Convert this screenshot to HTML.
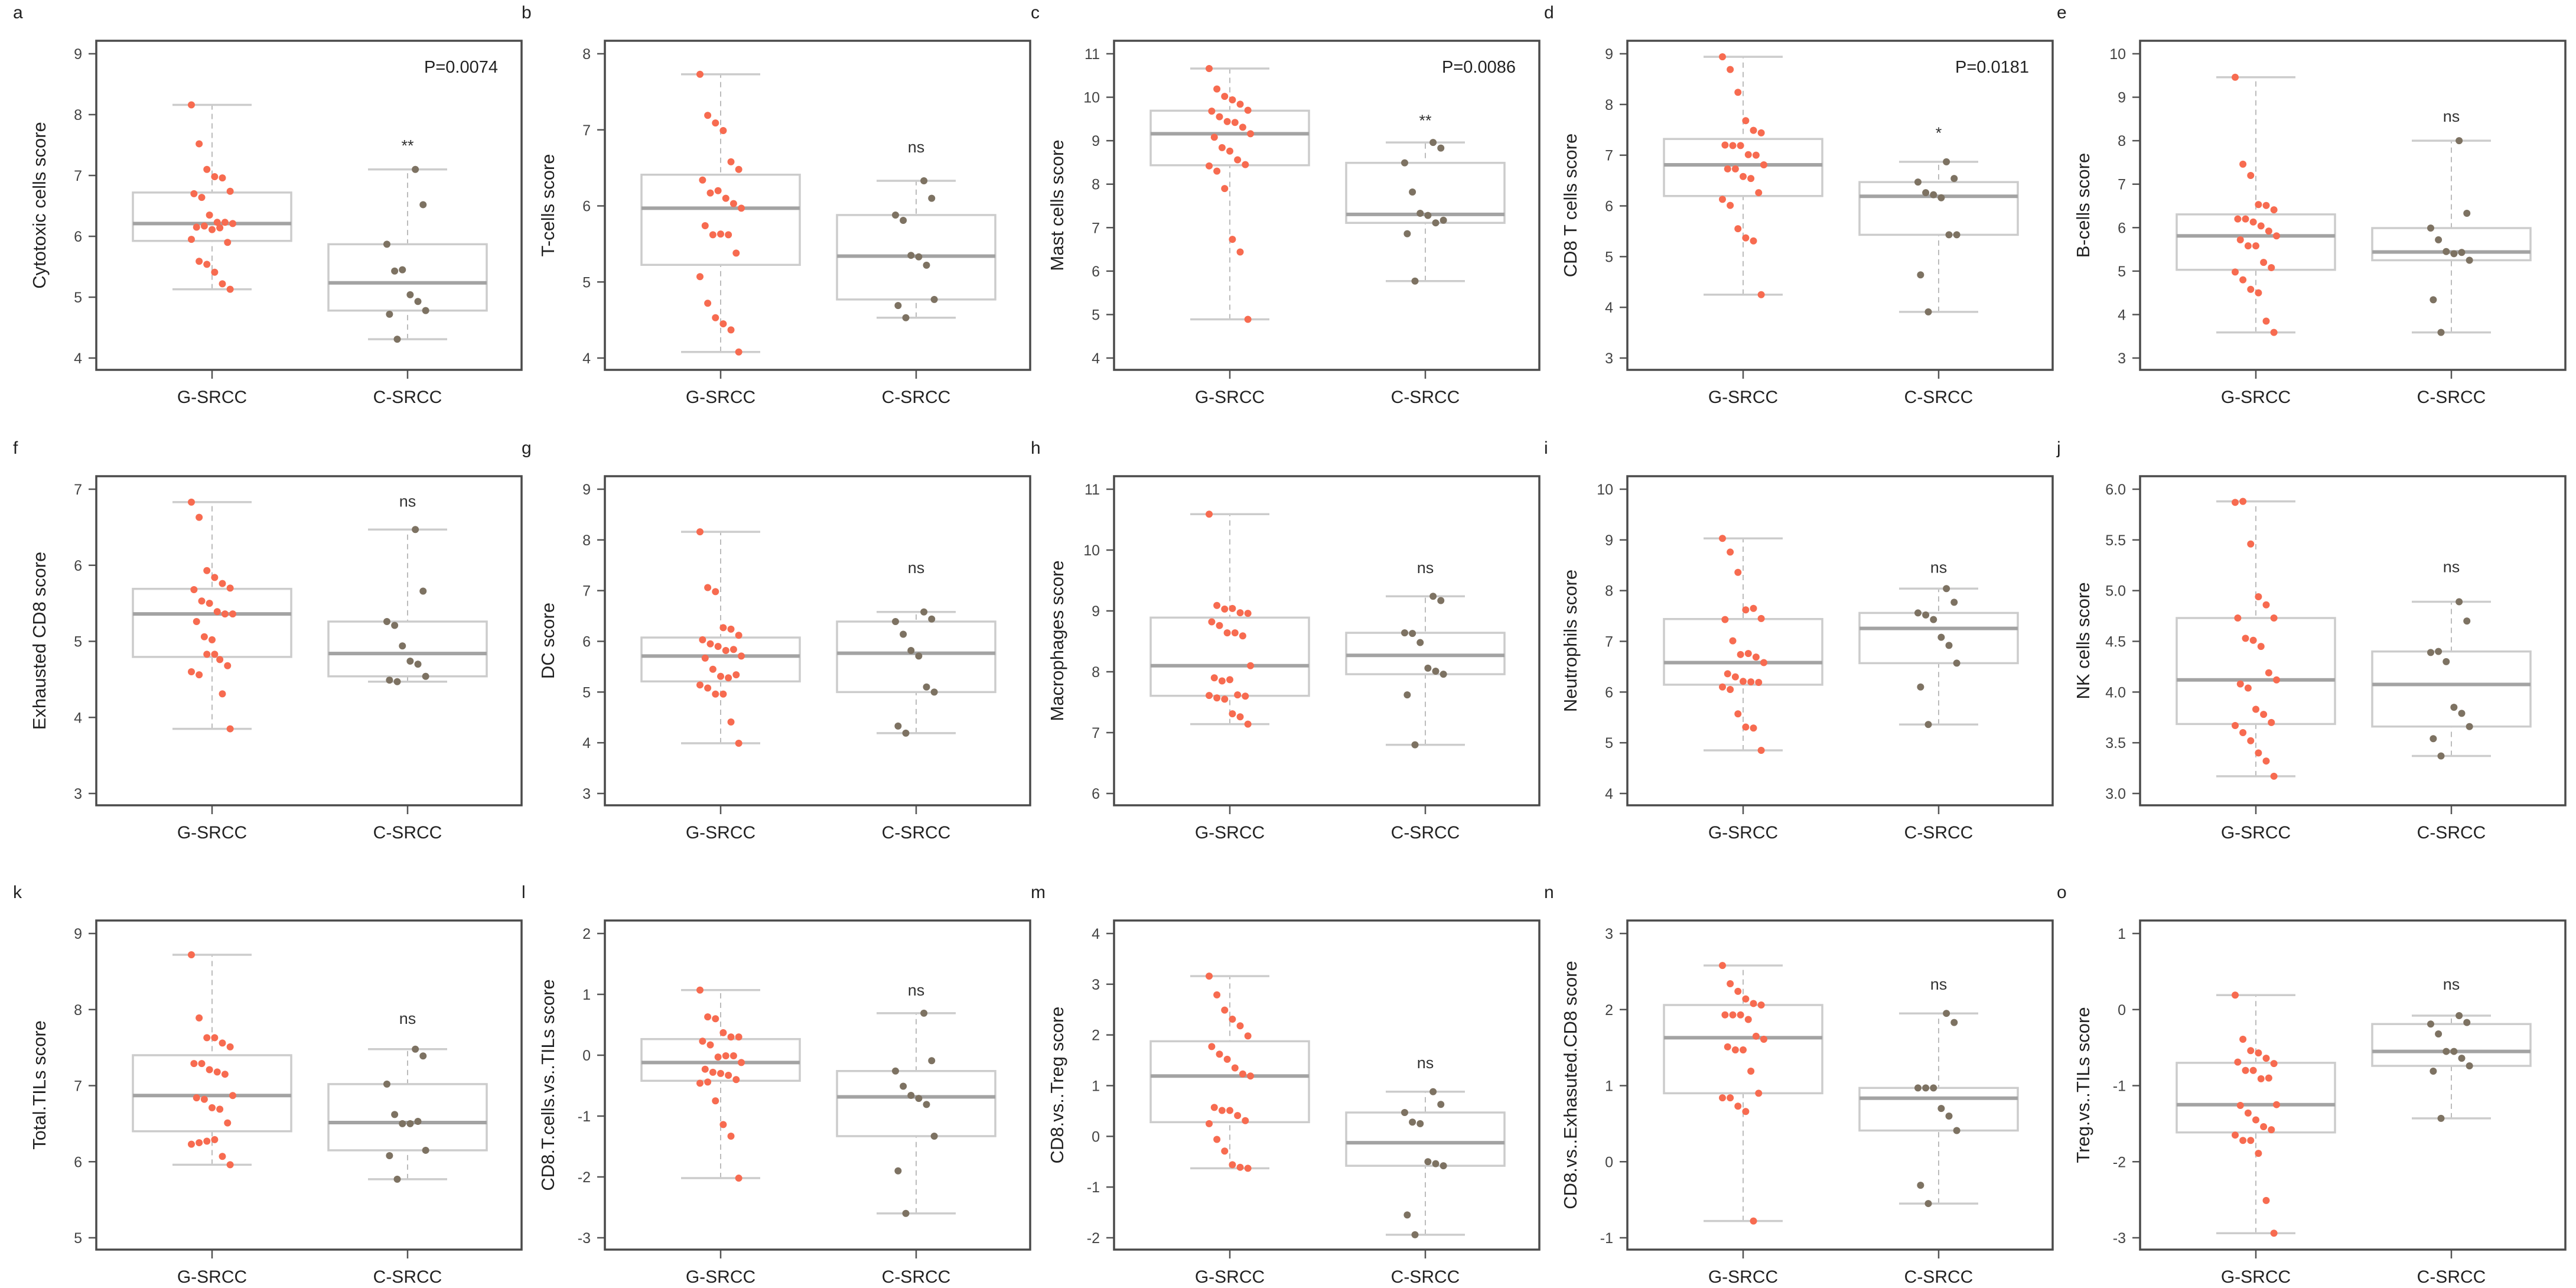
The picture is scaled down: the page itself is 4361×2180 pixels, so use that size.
<!DOCTYPE html>
<html><head><meta charset="utf-8">
<style>
html,body{margin:0;padding:0;background:#fff;}
svg{display:block;font-family:"Liberation Sans",Arial,sans-serif;}
</style></head>
<body>
<svg id="fig" width="4361" height="2180" viewBox="0 0 4361 2180" xmlns="http://www.w3.org/2000/svg"></svg>
<script>
const panelLetters = ["a","b","c","d","e","f","g","h","i","j","k","l","m","n","o"];
const yTitles = ["Cytotoxic cells score","T-cells score","Mast cells score","CD8 T cells score","B-cells score",
 "Exhausted CD8 score","DC score","Macrophages score","Neutrophils score","NK cells score",
 "Total.TILs score","CD8.T.cells.vs..TILs score","CD8.vs..Treg score","CD8.vs..Exhasuted.CD8 score","Treg.vs..TILs score"];
const categories = ["G-SRCC","C-SRCC"];
const tickLo = [4,4,4,3,3, 3,3,6,4,3, 5,-3,-2,-1,-3];
const tickHi = [9,8,11,9,10, 7,9,11,10,6, 9,2,4,3,1];
const tickStep = [1,1,1,1,1, 1,1,1,1,0.5, 1,1,1,1,1];
const tickDecimals = [0,0,0,0,0, 0,0,0,0,1, 0,0,0,0,0];
const sigLabels = ["**","ns","**","*","ns", "ns","ns","ns","ns","ns", "ns","ns","ns","ns","ns"];
const sigValues = [7.5,6.78,9.48,7.45,8.57, 6.85,7.46,9.72,8.47,5.24, 7.89,1.08,1.46,2.34,0.34];
const pLabels = ["P=0.0074","","P=0.0086","P=0.0181","", "","","","","", "","","","",""];
const gValues = [
 [8.16,7.52,7.10,6.98,6.96,6.74,6.70,6.64,6.35,6.23,6.23,6.21,6.15,6.17,6.11,6.14,5.90,5.95,5.59,5.54,5.41,5.22,5.13],
 [7.73,7.19,7.09,6.99,6.58,6.48,6.34,6.17,6.20,6.10,6.03,5.97,5.74,5.62,5.63,5.62,5.38,5.07,4.72,4.53,4.45,4.37,4.08],
 [10.66,10.19,10.02,9.94,9.84,9.70,9.68,9.55,9.44,9.42,9.31,9.16,9.08,8.84,8.76,8.56,8.45,8.42,8.30,7.90,6.73,6.44,4.89],
 [8.94,8.69,8.24,7.68,7.49,7.44,7.20,7.19,7.19,7.01,7.00,6.81,6.73,6.73,6.58,6.54,6.26,6.13,6.01,5.55,5.37,5.31,4.25],
 [9.46,7.46,7.20,6.53,6.51,6.41,6.20,6.20,6.13,6.04,5.92,5.81,5.72,5.58,5.58,5.20,5.08,4.98,4.80,4.58,4.50,3.85,3.59],
 [6.83,6.63,5.93,5.84,5.76,5.70,5.68,5.53,5.50,5.39,5.36,5.36,5.26,5.06,5.02,4.76,4.68,4.60,4.56,4.83,4.83,4.31,3.85],
 [8.16,7.06,6.98,6.27,6.24,6.12,6.03,5.95,5.90,5.82,5.84,5.71,5.67,5.45,5.31,5.28,5.34,5.14,5.08,4.96,4.96,4.41,3.99],
 [10.59,9.09,9.03,9.04,8.97,8.96,8.82,8.76,8.64,8.64,8.59,8.10,7.90,7.85,7.87,7.62,7.60,7.61,7.57,7.55,7.31,7.26,7.14],
 [9.03,8.76,8.36,7.62,7.65,7.45,7.43,7.01,6.74,6.76,6.69,6.58,6.36,6.30,6.21,6.20,6.19,6.10,6.05,5.57,5.31,5.29,4.85],
 [5.87,5.88,5.46,4.94,4.86,4.73,4.73,4.53,4.51,4.45,4.19,4.12,4.08,4.04,3.83,3.78,3.70,3.67,3.60,3.52,3.40,3.32,3.17],
 [8.72,7.89,7.63,7.63,7.56,7.51,7.29,7.29,7.21,7.18,7.15,6.87,6.84,6.82,6.71,6.69,6.51,6.23,6.25,6.27,6.29,6.07,5.96],
 [1.07,0.63,0.60,0.37,0.30,0.30,0.23,0.17,-0.03,-0.01,-0.01,-0.12,-0.23,-0.28,-0.30,-0.33,-0.40,-0.46,-0.44,-0.75,-1.14,-1.33,-2.02],
 [3.16,2.79,2.49,2.31,2.18,1.98,1.77,1.62,1.52,1.35,1.23,1.19,0.57,0.51,0.51,0.41,0.31,0.25,-0.06,-0.29,-0.56,-0.61,-0.63],
 [2.58,2.34,2.24,2.14,2.08,2.06,1.93,1.93,1.93,1.87,1.65,1.61,1.51,1.47,1.47,1.19,0.90,0.84,0.84,0.73,0.66,-0.78],
 [0.19,-0.39,-0.54,-0.57,-0.64,-0.71,-0.69,-0.80,-0.80,-0.91,-0.90,-1.25,-1.26,-1.36,-1.45,-1.54,-1.58,-1.65,-1.72,-1.72,-1.89,-2.51,-2.94]
];
const cValues = [
 [7.10,6.52,5.87,5.43,5.45,5.04,4.93,4.78,4.72,4.31],
 [6.33,6.10,5.88,5.81,5.35,5.33,5.22,4.77,4.69,4.53],
 [8.96,8.83,8.49,7.82,7.33,7.28,7.11,7.17,6.86,5.77],
 [6.87,6.54,6.47,6.26,6.22,6.16,5.43,5.43,4.64,3.91],
 [8.00,6.33,5.99,5.72,5.45,5.40,5.43,5.25,4.34,3.59],
 [6.47,5.66,5.26,5.21,4.94,4.74,4.70,4.54,4.49,4.47],
 [6.58,6.44,6.39,6.14,5.82,5.71,5.10,5.00,4.33,4.19],
 [9.24,9.17,8.64,8.63,8.48,8.06,8.01,7.96,7.62,6.80],
 [8.04,7.77,7.56,7.52,7.43,7.08,6.92,6.57,6.10,5.36],
 [4.89,4.70,4.39,4.40,4.30,3.85,3.79,3.66,3.54,3.37],
 [7.48,7.39,7.02,6.62,6.50,6.50,6.53,6.15,6.08,5.77],
 [0.69,-0.09,-0.26,-0.51,-0.66,-0.71,-0.81,-1.33,-1.90,-2.60],
 [0.88,0.63,0.47,0.28,0.25,-0.50,-0.54,-0.58,-1.55,-1.94],
 [1.95,1.83,0.97,0.97,0.97,0.70,0.60,0.41,-0.31,-0.55],
 [-0.08,-0.17,-0.19,-0.32,-0.55,-0.55,-0.64,-0.74,-0.81,-1.43]
];

const NS = "http://www.w3.org/2000/svg";
const svg = document.getElementById("fig");
const colLeft = [163,1024,1886,2755,3623];
const rowTop = [69,806,1558];
const BW = 720, BH = 557;
function mk(tag, attrs, parent){const e=document.createElementNS(NS,tag);for(const k in attrs)e.setAttribute(k,attrs[k]);(parent||svg).appendChild(e);return e;}
function fivenum(arr){
  const s=[...arr].sort((a,b)=>a-b), n=s.length;
  const n4=Math.floor((n+3)/2)/2;
  const d=[1,n4,(n+1)/2,n+1-n4,n];
  return d.map(v=>0.5*(s[Math.floor(v)-1]+s[Math.ceil(v)-1]));
}
function jit(i,g){const h=((i*37+g*11)%17)/16;return (h-0.5)*70;}

for(let p=0;p<15;p++){
  const L=colLeft[p%5], T=rowTop[Math.floor(p/5)];
  const R=L+BW, B=T+BH;
  const g=mk("g",{});
  
  
  const yTop=T+22, yBot=B-20;
  const y=v=>yBot-(v-tickLo[p])/(tickHi[p]-tickLo[p])*(yBot-yTop);
  const xc=[L+196,L+527];
  const lt=mk("text",{x:L-141,y:T-38,"font-size":30,fill:"#222"},g);lt.textContent=panelLetters[p];
  
  
  const yt=mk("text",{x:0,y:0,"font-size":31,fill:"#222","text-anchor":"middle",transform:`translate(${L-86},${(T+B)/2}) rotate(-90)`},g);
  yt.textContent=yTitles[p];
  
  
  const nt=Math.round((tickHi[p]-tickLo[p])/tickStep[p]);
  for(let k=0;k<=nt;k++){
    const v=tickLo[p]+k*tickStep[p], yy=y(v);
    const tm=mk("line",{x1:L-13,x2:L,y1:yy,y2:yy,stroke:"#555","stroke-width":2.5},g);
    
    
    const tl=mk("text",{x:L-24,y:yy+9,"font-size":25,fill:"#444","text-anchor":"end"},g);
    tl.textContent=v.toFixed(tickDecimals[p]);
    
    
  }
  for(let c=0;c<2;c++){
    const xm=mk("line",{x1:xc[c],x2:xc[c],y1:B,y2:B+15,stroke:"#555","stroke-width":2.5},g);
    
    
    const xl=mk("text",{x:xc[c],y:B+56,"font-size":30,fill:"#222","text-anchor":"middle"},g);
    xl.textContent=categories[c];
    
    
  }
  const sets=[gValues[p],cValues[p]];
  for(let c=0;c<2;c++){
    const f=fivenum(sets[c]);
    const x=xc[c];
    const wsk=mk("line",{x1:x,x2:x,y1:y(f[0]),y2:y(f[4]),stroke:"#bbb","stroke-width":2,"stroke-dasharray":"9,7"},g);
    
    
    for(const v of [f[0],f[4]]){
      const cap=mk("line",{x1:x-67,x2:x+67,y1:y(v),y2:y(v),stroke:"#ccc","stroke-width":3.5},g);
      
      
    }
    const bx=mk("rect",{x:x-134,y:y(f[3]),width:268,height:y(f[1])-y(f[3]),fill:"#fff",stroke:"#ccc","stroke-width":3.5},g);
    
    
    const md=mk("line",{x1:x-134,x2:x+134,y1:y(f[2]),y2:y(f[2]),stroke:"#a3a3a3","stroke-width":6},g);
    
    
  }
  for(let c=0;c<2;c++){
    sets[c].forEach((v,i)=>{
      const pt=mk("circle",{cx:xc[c]+jit(i,c),cy:y(v),r:6,fill:c===0?"#f76b50":"#7d7262"},g);
      
      
    });
  }
  const fr=mk("rect",{x:L,y:T,width:BW,height:BH,fill:"none",stroke:"#4a4a4a","stroke-width":3.5},g);
  
  
  const sg=mk("text",{x:xc[1],y:y(sigValues[p])+10,"font-size":27,fill:"#333","text-anchor":"middle"},g);
  sg.textContent=sigLabels[p];
  
  
  if(pLabels[p]){
    const pv=mk("text",{x:L+680,y:T+54,"font-size":29,fill:"#222","text-anchor":"end"},g);
    pv.textContent=pLabels[p];
    
    
  }
}
</script>
</body></html>
